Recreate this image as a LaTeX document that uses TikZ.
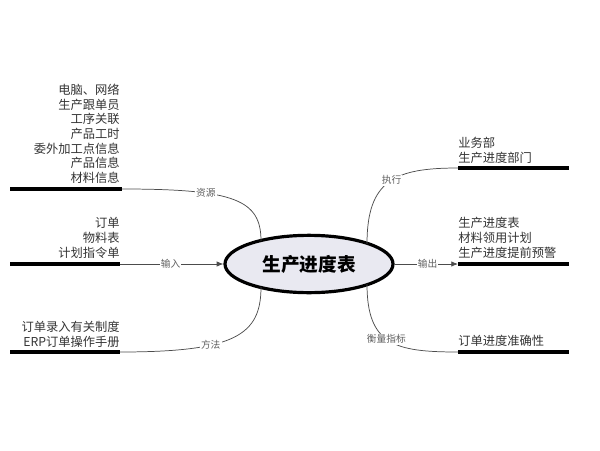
\documentclass[tikz,border=0pt]{standalone}
\usepackage{fontspec}
\setmainfont{Noto Sans CJK SC}
\usetikzlibrary{arrows.meta,shapes.geometric}
\definecolor{txt}{HTML}{333333}
\definecolor{lab}{HTML}{606060}
\definecolor{ellfill}{HTML}{E9E9F1}
\begin{document}
\begin{tikzpicture}[x=0.75pt,y=-0.75pt,
  thickbar/.style={line width=2.6pt,black},
  thinline/.style={line width=0.55pt,black!70},
  itemtxt/.style={text=txt,font=\fontsize{9.2}{11}\selectfont,inner sep=0pt},
  linelab/.style={fill=white,text=lab,font=\fontsize{7.3}{8}\selectfont,inner sep=0.8pt},
  arr/.style={-{Latex[length=5pt,width=4pt]}}]
\useasboundingbox (0,0) rectangle (600,450);
% centre
\node[draw=black,line width=2.4pt,fill=ellfill,ellipse,minimum width=126pt,minimum height=43pt,inner sep=0pt] (ctr) at (309,264) {\fontsize{14}{16}\selectfont\bfseries 生产进度表};
% coordinates
\coordinate (rs) at (10,189); \coordinate (re) at (122,189);
\coordinate (is) at (10,264); \coordinate (ie) at (120,264);
\coordinate (ms) at (10,352); \coordinate (me) at (120,352);
\coordinate (xs) at (458,168); \coordinate (xe) at (569,168);
\coordinate (os) at (458,264); \coordinate (oe) at (569,264);
\coordinate (qs) at (458,352); \coordinate (qe) at (569,352);
\coordinate (cTL) at (261,241); \coordinate (cBL) at (261,287);
\coordinate (cTR) at (367,244); \coordinate (cBR) at (367,284);
% thick bars
\draw[thickbar] (rs) -- (re);
\draw[thickbar] (is) -- (ie);
\draw[thickbar] (ms) -- (me);
\draw[thickbar] (xs) -- (xe);
\draw[thickbar] (os) -- (oe);
\draw[thickbar] (qs) -- (qe);
% connectors
\draw[thinline] (re) .. controls (235,189) and (261,200) .. (cTL) node[linelab,pos=0.32] (l1) {资源};
\draw[thinline,arr] (ie) -- (ctr.west) node[linelab,pos=0.49] (l2) {输入};
\draw[thinline] (me) .. controls (235,352) and (261,335) .. (cBL) node[linelab,pos=0.35] (l3) {方法};
\draw[thinline] (cTR) .. controls (367,180) and (395,168) .. (xs) node[linelab,pos=0.53] (l4) {执行};
\draw[thinline,arr] (ctr.east) -- (os) node[linelab,pos=0.52] (l5) {输出};
\draw[thinline] (cBR) .. controls (367,345) and (395,352) .. (qs) node[linelab,pos=0.47] (l6) {衡量指标};
% left texts
\node[itemtxt,anchor=east] (t1) at (120,90) {电脑、网络};
\node[itemtxt,anchor=east] (t2) at (120,104.7) {生产跟单员};
\node[itemtxt,anchor=east] (t3) at (120,119.3) {工序关联};
\node[itemtxt,anchor=east] (t4) at (120,134) {产品工时};
\node[itemtxt,anchor=east] (t5) at (120,148.7) {委外加工点信息};
\node[itemtxt,anchor=east] (t6) at (120,163.3) {产品信息};
\node[itemtxt,anchor=east] (t7) at (120,178) {材料信息};
\node[itemtxt,anchor=east] (u1) at (120,223) {订单};
\node[itemtxt,anchor=east] (u2) at (120,238) {物料表};
\node[itemtxt,anchor=east] (u3) at (120,253) {计划指令单};
\node[itemtxt,anchor=east] (v1) at (120,327) {订单录入有关制度};
\node[itemtxt,anchor=east] (v2) at (120,342) {ERP订单操作手册};
% right texts
\node[itemtxt,anchor=west] (w1) at (458,143) {业务部};
\node[itemtxt,anchor=west] (w2) at (458,157.5) {生产进度部门};
\node[itemtxt,anchor=west] (y1) at (458,223) {生产进度表};
\node[itemtxt,anchor=west] (y2) at (458,238) {材料领用计划};
\node[itemtxt,anchor=west] (y3) at (458,253) {生产进度提前预警};
\node[itemtxt,anchor=west] (z1) at (458,341) {订单进度准确性};
\end{tikzpicture}
\end{document}
